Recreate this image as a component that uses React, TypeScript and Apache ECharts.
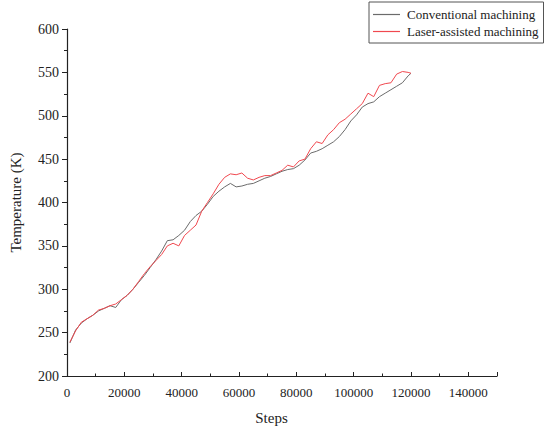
import React, { useEffect, useRef } from "react";
import * as echarts from "echarts";

const steps = [
  1000, 3000, 5000, 7000, 9000, 11000, 13000, 15000, 17000, 19000,
  21000, 23000, 25000, 27000, 29000, 31000, 33000, 35000, 37000, 39000,
  41000, 43000, 45000, 47000, 49000, 51000, 53000, 55000, 57000, 59000,
  61000, 63000, 65000, 67000, 69000, 71000, 73000, 75000, 77000, 79000,
  81000, 83000, 85000, 87000, 89000, 91000, 93000, 95000, 97000, 99000,
  101000, 103000, 105000, 107000, 109000, 111000, 113000, 115000, 117000, 119000,
  120000,
];

const conventional = [
  238, 253, 261, 266, 270, 275, 278, 281, 279, 288,
  293, 300, 308, 316, 325, 334, 344, 356, 357, 362,
  368, 378, 385, 390, 398, 407, 413, 418, 422, 418,
  419, 421, 422, 425, 428, 430, 433, 436, 438, 439,
  443, 449, 457, 459, 462, 466, 470, 476, 484, 494,
  501, 510, 514, 516, 522, 526, 530, 534, 538, 546,
  549,
];

const laser = [
  239, 252, 262, 266, 270, 276, 278, 281, 283, 288,
  293, 300, 309, 318, 326, 333, 340, 350, 353, 350,
  362, 368, 374, 390, 400, 410, 421, 429, 433, 432,
  434, 428, 426, 429, 431, 431, 434, 437, 443, 441,
  448, 450, 462, 470, 468, 478, 484, 492, 496, 502,
  508, 514, 526, 522, 535, 537, 538, 548, 551, 550,
  549,
];

const seriesNames = ["Conventional machining", "Laser-assisted machining"];
const xTicks = [0, 20000, 40000, 60000, 80000, 100000, 120000, 140000];
const yTicks = [200, 250, 300, 350, 400, 450, 500, 550, 600];

const FONT = "'Liberation Serif', 'Times New Roman', serif";

export default function App() {
  const ref = useRef<HTMLDivElement>(null);
  useEffect(() => {
    if (!ref.current) return;
    const chart = echarts.init(ref.current, undefined, { renderer: "svg" });
    const pair = (vals: number[]) => steps.map((s, i) => [s, vals[i]]);
    chart.setOption({
      animation: false,
      backgroundColor: "#ffffff",
      grid: { left: 60, right: 53, top: 29, bottom: 55, containLabel: false },
      legend: {
        orient: "vertical",
        left: 369,
        top: 2,
        width: 170,
        data: seriesNames,
        icon: "rect",
        itemWidth: 27,
        itemHeight: 1.2,
        itemGap: 4,
        padding: [6, 5, 5, 4],
        borderColor: "#555",
        borderWidth: 1,
        borderRadius: 0,
        textStyle: { fontFamily: FONT, fontSize: 13, color: "#222", padding: [0, 0, 0, 2] },
      },
      xAxis: {
        type: "value",
        min: 0,
        max: 150000,
        interval: 20000,
        name: "Steps",
        nameLocation: "middle",
        nameGap: 34,
        nameTextStyle: { fontFamily: FONT, fontSize: 15, color: "#222", padding: [0, 21, 0, 0] },
        axisLine: { show: true, onZero: false, lineStyle: { color: "#222", width: 1.2 } },
        axisTick: { show: true, inside: true, length: 4, lineStyle: { color: "#222" } },
        minorTick: { show: true, splitNumber: 2, length: 2.5, lineStyle: { color: "#222" } },
        axisLabel: {
          fontFamily: FONT,
          fontSize: 13,
          color: "#222",
          margin: 10,
          formatter: (v: number) => (xTicks.includes(v) ? String(v) : ""),
        },
        splitLine: { show: false },
      },
      yAxis: {
        type: "value",
        min: 200,
        max: 600,
        interval: 50,
        name: "Temperature (K)",
        nameLocation: "middle",
        nameGap: 44,
        nameTextStyle: { fontFamily: FONT, fontSize: 15, color: "#222" },
        axisLine: { show: true, onZero: false, lineStyle: { color: "#222", width: 1.2 } },
        axisTick: { show: true, inside: false, length: 5, lineStyle: { color: "#222" } },
        minorTick: { show: true, splitNumber: 2, length: 3, lineStyle: { color: "#222" } },
        axisLabel: {
          fontFamily: FONT,
          fontSize: 14,
          color: "#222",
          margin: 8,
          formatter: (v: number) => (yTicks.includes(v) ? String(v) : ""),
        },
        splitLine: { show: false },
      },
      series: [
        {
          name: seriesNames[0],
          type: "line",
          data: pair(conventional),
          showSymbol: false,
          symbol: "none",
          lineStyle: { color: "#6b6b6b", width: 1 },
          itemStyle: { color: "#6b6b6b" },
          z: 2,
        },
        {
          name: seriesNames[1],
          type: "line",
          data: pair(laser),
          showSymbol: false,
          symbol: "none",
          lineStyle: { color: "#f0484f", width: 1 },
          itemStyle: { color: "#f0484f" },
          z: 3,
        },
      ],
    });
    return () => chart.dispose();
  }, []);
  return (
    <div
      ref={ref}
      style={{ position: "fixed", left: 0, top: 0, width: 550, height: 431, background: "#fff" }}
    />
  );
}
